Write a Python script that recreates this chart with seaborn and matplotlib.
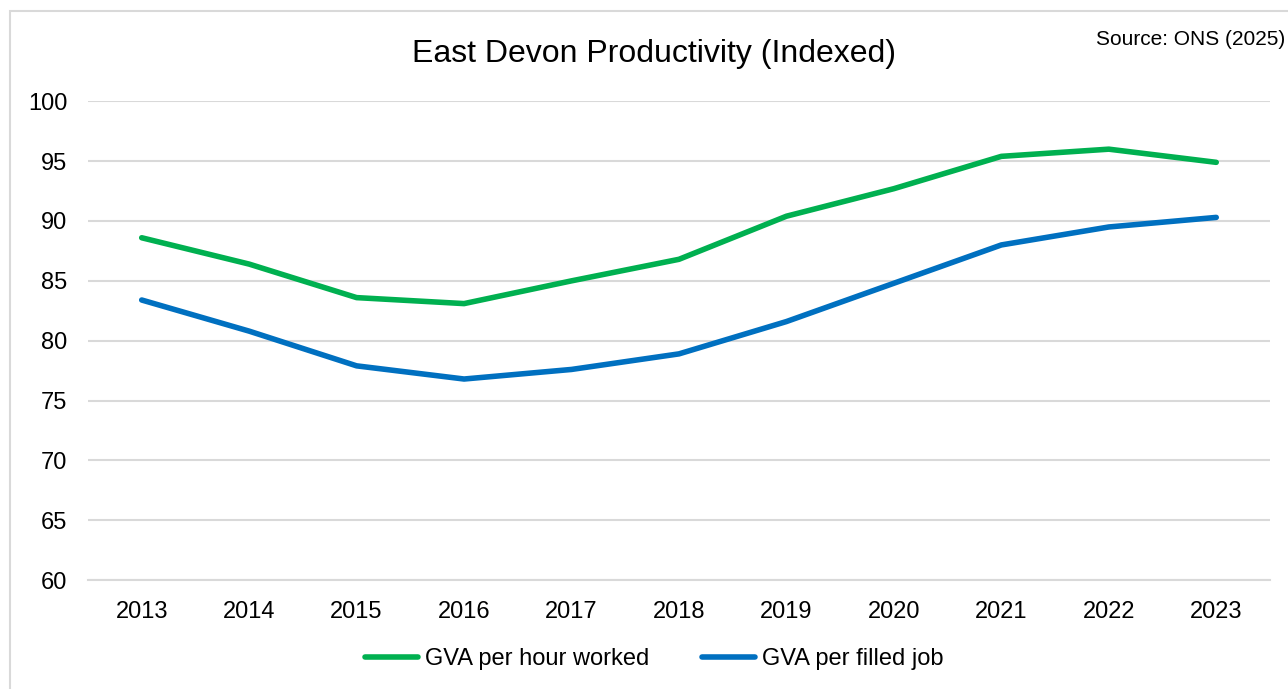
import pandas as pd
import matplotlib.pyplot as plt
import seaborn as sns
from matplotlib.patches import Rectangle

years = ["2013", "2014", "2015", "2016", "2017", "2018", "2019", "2020", "2021", "2022", "2023"]
gva_per_hour = [88.6, 86.4, 83.6, 83.1, 85.0, 86.8, 90.4, 92.7, 95.4, 96.0, 94.9]
gva_per_job = [83.4, 80.8, 77.9, 76.8, 77.6, 78.9, 81.6, 84.8, 88.0, 89.5, 90.3]
y_ticks = [60, 65, 70, 75, 80, 85, 90, 95, 100]

df = pd.DataFrame({
    "Year": years * 2,
    "Value": gva_per_hour + gva_per_job,
    "Series": ["GVA per hour worked"] * len(years) + ["GVA per filled job"] * len(years),
})

sns.set_style("white")
plt.rcParams["font.family"] = ["Liberation Sans", "DejaVu Sans"]
plt.rcParams["text.color"] = "black"

fig = plt.figure(figsize=(12.88, 6.89), dpi=100)
ax = fig.add_axes([0.0683, 0.158, 0.9177, 0.695])

sns.lineplot(
    data=df,
    x="Year",
    y="Value",
    hue="Series",
    palette=["#00B050", "#0070C0"],
    linewidth=4,
    ax=ax,
    legend=False,
)
ax.lines[0].set_solid_capstyle("round")
ax.lines[1].set_solid_capstyle("round")

ax.set_xlim(-0.5, len(years) - 0.5)
ax.set_ylim(60, 100)
ax.set_yticks(y_ticks)
ax.yaxis.grid(True, color="#D9D9D9", linewidth=1.5)
ax.set_axisbelow(True)
for side in ["top", "right", "left"]:
    ax.spines[side].set_visible(False)
ax.spines["bottom"].set_color("#D9D9D9")
ax.spines["bottom"].set_linewidth(1.5)
ax.tick_params(axis="both", length=0, labelsize=17, colors="black")
ax.tick_params(axis="y", pad=15)
ax.tick_params(axis="x", pad=15)
ax.set_xlabel("")
ax.set_ylabel("")

fig.text(0.508, 0.922, "East Devon Productivity (Indexed)", ha="center", va="center", fontsize=23)
fig.text(0.998, 0.943, "Source: ONS (2025)", ha="right", va="center", fontsize=15)

# legend
handles = [plt.Line2D([], [], color="#00B050", linewidth=4, solid_capstyle="round"),
           plt.Line2D([], [], color="#0070C0", linewidth=4, solid_capstyle="round")]
fig.legend(handles, ["GVA per hour worked", "GVA per filled job"], loc="center",
           bbox_to_anchor=(0.508, 0.043), ncol=2, frameon=False, fontsize=17,
           handlelength=2.25, handletextpad=0.3, columnspacing=2.2)

fig.patches.append(Rectangle((0.008, -0.05), 1.2, 1.034, transform=fig.transFigure,
                             fill=False, edgecolor="#D9D9D9", linewidth=1.5))

plt.savefig("out.png", dpi=100)
